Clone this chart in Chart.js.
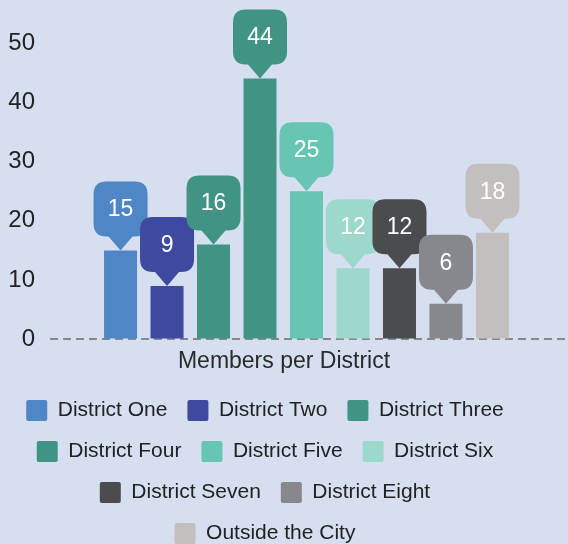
<!DOCTYPE html>
<html>
<head>
<meta charset="utf-8">
<script src="https://cdn.jsdelivr.net/npm/chart.js@4/dist/chart.umd.min.js"></script>
<style>
    html, body { margin: 0; padding: 0; background: #d5dff0; }
    #wrap { width: 568px; height: 544px; position: relative; }
</style>
</head>
<body>
<div id="wrap"><canvas id="main-chart"></canvas></div>
<script>
const category = "Members per District";
const districts = ["District One", "District Two", "District Three", "District Four", "District Five", "District Six", "District Seven", "District Eight", "Outside the City"];
const members = [15, 9, 16, 44, 25, 12, 12, 6, 18];
const colours = ["#4e86c6", "#3d4a9f", "#419483", "#419483", "#67c5b3", "#9dd8cc", "#4a4c50", "#87888d", "#c2bfbe"];
const y_ticks = [0, 10, 20, 30, 40, 50];

const FONT = "'Liberation Sans', Arial, sans-serif";

// speech bubble above every bar
const bubble_plugin = {
    id: "bubbles",
    afterLayout(chart) {
        // legend block sits a bit left of centre in the original
        const lg = chart.legend;
        if (lg) {
            lg.left = 0;
            lg.right = 530;
            lg.width = 530;
        }
    },
    afterDatasetsDraw(chart) {
        const ctx = chart.ctx;
        const w = 54, h = 55, r = 13, tip = 14, half = 12;
        chart.data.datasets.forEach((ds, i) => {
            const bar = chart.getDatasetMeta(i).data[0];
            if (!bar) return;
            const cx = bar.x, ty = bar.y;
            const bottom = ty - tip;
            const top = bottom - h;
            const left = cx - w / 2, right = cx + w / 2;
            ctx.save();
            ctx.fillStyle = ds.backgroundColor;
            ctx.beginPath();
            ctx.moveTo(left + r, top);
            ctx.lineTo(right - r, top);
            ctx.quadraticCurveTo(right, top, right, top + r);
            ctx.lineTo(right, bottom - r);
            ctx.quadraticCurveTo(right, bottom, right - r, bottom);
            ctx.lineTo(cx + half, bottom);
            ctx.lineTo(cx, ty);
            ctx.lineTo(cx - half, bottom);
            ctx.lineTo(left + r, bottom);
            ctx.quadraticCurveTo(left, bottom, left, bottom - r);
            ctx.lineTo(left, top + r);
            ctx.quadraticCurveTo(left, top, left + r, top);
            ctx.closePath();
            ctx.fill();
            ctx.fillStyle = "#ffffff";
            ctx.font = "23px " + FONT;
            ctx.textAlign = "center";
            ctx.textBaseline = "middle";
            ctx.fillText(String(ds.data[0]), cx, (top + bottom) / 2 + 1);
            ctx.restore();
        });
    },
};

document.addEventListener("DOMContentLoaded", () => {
    const ctx = document.getElementById("main-chart").getContext("2d");

    const datasets = districts.map((name, i) => ({
        label: name,
        data: [members[i]],
        backgroundColor: colours[i],
        borderWidth: 0,
        categoryPercentage: 0.8,
        barPercentage: 0.71,
    }));

    new Chart(ctx, {
        type: "bar",
        data: {
            labels: [category],
            datasets: datasets,
        },
        options: {
            responsive: true,
            maintainAspectRatio: false,
            animation: false,
            layout: {
                padding: { top: 43, right: 0, bottom: -10, left: 0 },
            },
            plugins: {
                tooltip: { enabled: false },
                title: {
                    display: true,
                    text: category,
                    position: "bottom",
                    weight: 500,
                    color: "#2a2a2a",
                    font: { family: FONT, size: 23, weight: "normal" },
                    padding: { top: 8, bottom: 5 },
                },
                legend: {
                    position: "bottom",
                    labels: {
                        color: "#222222",
                        font: { family: FONT, size: 21 },
                        boxWidth: 21,
                        boxHeight: 21,
                        padding: 20,
                        useBorderRadius: true,
                        borderRadius: 2,
                    },
                },
            },
            scales: {
                x: {
                    display: false,
                },
                y: {
                    min: 0,
                    max: 50,
                    afterBuildTicks: (scale) => {
                        scale.ticks = y_ticks.map((v) => ({ value: v }));
                    },
                    afterFit: (scale) => {
                        scale.width = 45;
                    },
                    grid: {
                        drawTicks: false,
                        lineWidth: 2,
                        color: (c) => (c.tick && c.tick.value === 0 ? "#888888" : "rgba(0,0,0,0)"),
                    },
                    border: { display: false, dash: [8, 5], dashOffset: 8 },
                    ticks: {
                        color: "#222222",
                        font: { family: FONT, size: 24 },
                        padding: 10,
                    },
                },
            },
        },
        plugins: [bubble_plugin],
    });
});
</script>
</body>
</html>
